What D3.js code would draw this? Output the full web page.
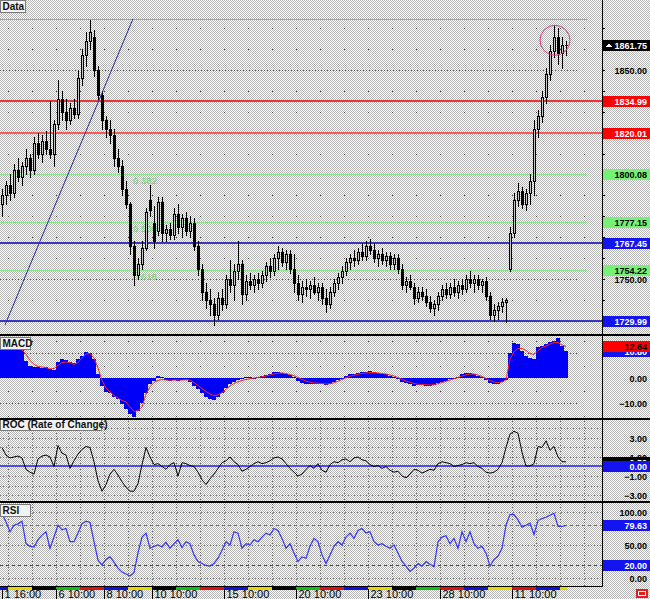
<!DOCTYPE html>
<html><head><meta charset="utf-8">
<script src="https://cdn.jsdelivr.net/npm/d3@7"></script>
<style>html,body{margin:0;padding:0;background:#fff;} svg{display:block;}</style>
</head><body><svg id="c" width="650" height="599"></svg>
<script>
// ---------- DATA ----------
const open  = [1786,1790,1795,1791,1802,1799,1804,1808,1802,1815,1810,1816,1812,1810,1824,1836,1830,1826,1832,1829,
1846,1857,1864,1866,1850,1838,1826,1822,1819,1808,1804,1793,1786,1766,1752,1757,1765,1788,1777,1773,
1787,1772,1774,1771,1781,1775,1779,1773,1777,1766,1755,1744,1740,1738,1733,1741,1738,1750,1747,1754,
1757,1743,1749,1747,1750,1748,1752,1756,1754,1760,1763,1758,1762,1755,1748,1743,1746,1745,1747,1744,
1746,1741,1738,1744,1748,1751,1754,1758,1760,1759,1763,1761,1766,1764,1760,1762,1759,1761,1757,1760,
1755,1747,1749,1746,1741,1744,1742,1739,1736,1738,1742,1745,1743,1746,1744,1747,1745,1750,1748,1750,
1747,1749,1742,1733,1735,1737,1739,1755,1772,1788,1792,1786,1791,1797,1822,1828,1837,1848,1859,1866,
1858,1862];
const high  = [1793,1797,1800,1805,1808,1806,1812,1810,1818,1820,1819,1821,1835,1826,1845,1840,1836,1834,1836,1850,
1860,1868,1874,1869,1852,1840,1828,1826,1822,1812,1807,1797,1787,1768,1760,1768,1784,1795,1785,1789,
1789,1776,1777,1784,1786,1781,1782,1780,1779,1768,1757,1748,1745,1741,1744,1745,1752,1759,1757,1768,
1759,1752,1753,1752,1753,1754,1758,1760,1762,1766,1765,1764,1764,1762,1752,1749,1750,1749,1751,1748,
1748,1745,1746,1750,1753,1756,1760,1762,1764,1765,1767,1768,1769,1767,1764,1765,1763,1763,1762,1762,
1757,1751,1752,1748,1746,1746,1745,1742,1740,1744,1747,1748,1748,1750,1749,1750,1752,1754,1752,1752,
1750,1751,1744,1738,1739,1741,1741,1775,1791,1796,1794,1793,1800,1826,1831,1840,1851,1862,1871,1870,
1866,1864];
const low   = [1780,1786,1788,1789,1797,1795,1800,1799,1800,1808,1806,1810,1808,1804,1822,1826,1822,1824,1827,1827,
1843,1852,1860,1847,1836,1822,1818,1815,1804,1801,1790,1784,1762,1747,1750,1755,1764,1780,1765,1771,
1768,1768,1769,1769,1772,1770,1771,1770,1764,1752,1740,1736,1733,1728,1731,1735,1736,1744,1740,1750,
1738,1740,1745,1744,1745,1746,1749,1751,1752,1755,1756,1755,1753,1744,1740,1739,1742,1741,1743,1740,
1738,1734,1736,1742,1745,1748,1752,1755,1756,1757,1759,1759,1762,1758,1756,1757,1756,1755,1755,1753,
1745,1744,1745,1738,1739,1740,1737,1734,1733,1735,1740,1741,1741,1742,1741,1743,1744,1746,1744,1745,
1744,1740,1731,1730,1731,1734,1729.5,1754,1770,1785,1784,1783,1786,1790,1818,1825,1834,1845,1856,1853,
1851,1857];
const close = [1790,1795,1791,1802,1799,1804,1808,1802,1815,1810,1816,1812,1810,1824,1836,1830,1826,1832,1829,1846,
1857,1864,1868,1850,1838,1826,1822,1819,1808,1804,1793,1786,1766,1752,1757,1765,1782,1783,1768,1787,
1772,1774,1771,1781,1775,1779,1773,1777,1766,1755,1744,1740,1738,1733,1741,1738,1750,1747,1754,1757,
1743,1749,1747,1750,1748,1752,1756,1754,1760,1763,1758,1762,1755,1748,1743,1746,1745,1747,1744,1746,
1741,1738,1744,1748,1751,1754,1758,1760,1759,1763,1761,1766,1764,1760,1762,1759,1761,1757,1760,1755,
1747,1749,1746,1741,1744,1742,1739,1736,1738,1742,1745,1743,1746,1744,1747,1745,1750,1748,1750,1747,
1749,1742,1733,1735,1737,1739,1740,1772,1788,1792,1786,1791,1797,1822,1828,1837,1848,1859,1866,1858,
1862,1861.75];

const macdHist = [15,14.5,13.5,13,12.5,12,7,5,4.5,4.3,4.2,4.3,3.5,3.2,6.5,7.5,7.2,6.5,6,7.5,
9,10.4,10,7.5,1.5,-3,-5.5,-6,-7.5,-8.5,-10.5,-12.5,-14.5,-15.5,-13,-10,-6,-2.5,-1,1,
0.5,-0.8,-1,-0.8,-1.2,-0.8,-0.6,-1.5,-3,-4.5,-6,-7.5,-8.5,-8.8,-7.5,-6,-4,-2.5,-1.5,-0.8,
-0.5,0.3,0.5,0.2,0.5,1,1.2,1.8,2.4,2.5,2.2,1.5,1.2,0.5,-1,-1.8,-2.2,-2.4,-2.2,-2.3,
-2.5,-2.8,-2.2,-1.5,-0.8,0,0.8,1.5,1.8,2.2,2.3,2.6,2.8,2.3,2,1.8,1.6,1,0.6,-0.3,
-1.5,-2,-2.5,-3,-2.8,-2.9,-3,-3.2,-2.8,-2,-1.5,-1,-0.5,0,0.5,1.5,2,2,1.8,1,
0.5,-0.8,-2,-2.5,-2.2,-1.5,-0.8,10,14,13.5,11,9,8,7.5,12.5,13,13.5,14.5,15,16,
13,10.8];
const macdSignal = [14,13.5,13.2,12.6,12,11.2,9.5,7,5.5,4.6,4.4,4.2,3.6,3.8,5,6.2,6.4,6.2,5.4,6.2,
8,9.6,9.8,8,4,-1,-4,-5.6,-7,-8,-9,-9.6,-11.5,-13.4,-13,-11.6,-6.5,-3.5,-1.8,-1,
-0.6,-0.8,-0.9,-0.8,-0.8,-0.8,-0.7,-0.8,-1.8,-3,-4.2,-5.4,-6.4,-7,-6.8,-5.8,-4.5,-3.2,-2.2,-1.5,
-1,-0.6,-0.3,0,0.2,0.5,0.8,1.2,1.6,1.9,2,1.8,1.4,0.9,0.2,-0.6,-1.2,-1.7,-2,-2.1,
-2.2,-2.4,-2.3,-1.9,-1.3,-0.6,0.1,0.7,1.1,1.5,1.8,2,2.2,2.2,2,1.8,1.6,1.2,0.8,0.2,
-0.6,-1.2,-1.7,-2.2,-2.5,-2.6,-2.7,-2.8,-2.7,-2.3,-1.8,-1.3,-0.8,-0.3,0.2,0.8,1.3,1.6,1.6,1.2,
0.6,-0.2,-1,-1.6,-1.9,-1.6,-0.8,7.5,10.5,11.8,11.8,11,9.8,9.4,11,12.2,12.8,13.6,14.2,14.2,
13.2,12.64];
const roc = [2.0,1.2,0.9,1.0,1.1,0.9,-0.3,-0.6,-0.8,0.8,1.1,1.2,1.0,0.0,2.2,1.4,1.2,-0.2,0.6,1.3,
1.8,2.1,2.0,0.5,-1.5,-2.6,-1.9,-0.8,-0.3,-0.9,-1.6,-2.2,-2.6,-2.6,-1.8,0.2,2.0,1.0,0.2,0.3,
0.0,-0.3,0.2,0.4,-1.0,0.4,0.3,0.1,0.0,-0.6,-1.4,-1.9,-1.3,-0.8,-0.2,0.4,0.6,1.0,0.5,0.2,
-0.5,-0.3,0.0,0.3,0.5,0.3,0.4,0.6,0.9,1.0,0.8,0.3,-0.2,-0.6,-1.0,-0.8,-0.3,0.1,-0.2,0.3,
-0.4,-0.6,0.2,0.5,0.4,0.7,0.8,0.5,0.9,1.0,0.7,0.6,0.2,0.0,0.1,-0.2,0.0,-0.4,-0.6,-0.5,
-1.0,-1.2,-0.8,-0.3,-0.4,-0.7,-0.5,-0.3,-0.4,0.3,0.5,0.4,0.3,0.0,0.1,0.2,0.4,0.3,0.4,0.0,
-0.2,-0.6,-0.7,-0.6,-0.3,0.4,2.0,3.4,3.7,3.5,1.5,0.05,0.05,0.3,2.1,2.0,2.7,1.7,2.1,1.0,
0.5,0.5];
const rsi = [98,85,70,80,82,86,52,48,47,58,65,70,45,62,80,73,75,55,55,68,
82,86,84,55,27,20,28,32,24,15,9,6,3,8,38,62,68,45,48,50,
47,54,45,52,58,46,55,52,35,25,22,19,18,22,30,42,55,50,70,68,
45,52,50,58,55,62,68,65,75,72,60,45,52,38,25,32,30,48,60,55,
35,22,35,48,55,50,62,68,60,72,75,68,70,55,50,52,48,45,50,38,
25,18,10,15,22,18,25,21,17,55,62,64,52,60,45,70,55,70,52,45,
48,38,18,28,33,45,80,96,96,88,77,80,83,66,87,90,92,95,98,78,
78,79.63];

const timeIdx    = [0,13.5,25.5,37.5,55.5,73.5,91.5,109.5,127.5];
const timeLabels = ["1 16:00","6 10:00","8 10:00","10 10:00","15 10:00","20 10:00","23 10:00","28 10:00","11 10:00"];
const sessionStart = [-1.5,1.5,7.5,13.5,19.5,25.5,31.5,37.5,43.5,49.5,55.5,61.5,67.5,73.5,79.5,85.5,91.5,97.5,103.5,109.5,115.5,121.5,127.5,133.5,139.5];
const sessionKind  = ["B","Y","K","G","R","B","Y","K","G","R","B","Y","K","G","R","B","Y","K","G","R","B","Y","R","B","Y"];

const priceTicks = [1850, 1750];
const redLevels  = [1834.99, 1820.01];
const blueLevels = [1767.45, 1729.99];
const fibTop     = 1874.3;
const fibLevels  = [1800.08, 1777.15, 1754.22];
const fibRatios  = ["0.382", "0.500", "0.618"];
const lastPrice  = 1861.75;
const trendIdx   = [0.75, 32.75];
const trendPrice = [1728, 1874.5];
const circleIdx = 138.25, circlePrice = 1864.2;
const macdTicks = [0, -10];
const macdLastHist = 10.8, macdLastSignal = 12.64;
const rocTicks = [3, 1, -1, -3];
const rocZero = 0, rocLast = 0.5;
const rsiTicks = [100, 50, 0];
const rsiHighLevel = 80, rsiLowLevel = 20, rsiLast = 79.63;

// ---------- LAYOUT ----------
const W = 650, H = 599, AX = 602;
const FONT = "'Liberation Sans', Arial, sans-serif";
const svg = d3.select("#c").attr("shape-rendering", "crispEdges");
const N = close.length;
const x = d3.scaleLinear().domain([0, N - 1]).range([2, 566]);
const yP = d3.scaleLinear().domain([1723.68, 1883.49]).range([334, 0]);
const yM = d3.scaleLinear().domain([-16, 16.8]).range([418, 336]);
const yR = d3.scaleLinear().domain([-3.63, 4.89]).range([501, 420]);
const yS = d3.scaleLinear().domain([-12.1, 113.6]).range([586, 503]);
const px = v => Math.round(v);

// background dither
const defs = svg.append("defs");
const pat = defs.append("pattern").attr("id", "dots").attr("width", 2).attr("height", 2).attr("patternUnits", "userSpaceOnUse");
pat.append("rect").attr("width", 2).attr("height", 2).attr("fill", "#ffffff");
pat.append("rect").attr("x", 0).attr("y", 0).attr("width", 1).attr("height", 1).attr("fill", "#b4b4b4");
pat.append("rect").attr("x", 1).attr("y", 1).attr("width", 1).attr("height", 1).attr("fill", "#b4b4b4");
svg.append("rect").attr("width", W).attr("height", H).attr("fill", "url(#dots)");

const gridX = d3.range(8, 590, 24);

// ---- main panel grid ----
const gMain = svg.append("g");
const dotRows = d3.range(1740, 1880, 10).filter(p => p !== 1750 && p !== 1850);
dotRows.forEach(p => gridX.forEach(gx => {
  gMain.append("rect").attr("x", gx).attr("y", px(yP(p))).attr("width", 1).attr("height", 1).attr("fill", "#444");
}));
priceTicks.forEach(p => {
  gMain.append("line").attr("x1", 0).attr("x2", 577).attr("y1", px(yP(p)) + 0.5).attr("y2", px(yP(p)) + 0.5)
    .attr("stroke", "#555").attr("stroke-dasharray", "1,2");
});

// levels
function hline(g, y, x2, color, w) {
  g.append("rect").attr("x", 0).attr("y", px(y) - Math.floor(w / 2)).attr("width", x2).attr("height", w).attr("fill", color);
}
hline(gMain, yP(fibTop), 587, "#4cdf4c", 1);
fibLevels.forEach(p => hline(gMain, yP(p), 587, "#84ec84", 1));
hline(gMain, yP(redLevels[0]), AX, "#f03434", 2);
hline(gMain, yP(redLevels[1]), AX, "#ff5858", 2);
blueLevels.forEach(p => hline(gMain, yP(p), AX, "#3838c4", 2));
fibLevels.forEach((p, k) => {
  gMain.append("text").attr("x", px(x(trendIdx[1]))).attr("y", px(yP(p)) + 10)
    .attr("font-family", FONT).attr("font-size", 9.5).attr("fill", "#62dc62").text(fibRatios[k]);
});

// candles
const gC = svg.append("g");
for (let i = 0; i < N; i++) {
  const cx = px(x(i));
  const yh = px(yP(high[i])), yl = px(yP(low[i]));
  gC.append("rect").attr("x", cx).attr("y", yh).attr("width", 1).attr("height", Math.max(1, yl - yh + 1)).attr("fill", "#000");
  const top = px(yP(Math.max(open[i], close[i]))), bot = px(yP(Math.min(open[i], close[i])));
  gC.append("rect").attr("x", cx - 1).attr("y", top).attr("width", 3).attr("height", Math.max(1, bot - top + 1)).attr("fill", "#000");
  if (close[i] >= open[i] && bot - top >= 2) {
    gC.append("rect").attr("x", cx).attr("y", top + 1).attr("width", 1).attr("height", bot - top - 1).attr("fill", "#c4c4c4");
  }
}

// trendline & circle
svg.append("line").attr("shape-rendering", "auto")
  .attr("x1", x(trendIdx[0])).attr("y1", yP(trendPrice[0])).attr("x2", x(trendIdx[1])).attr("y2", yP(trendPrice[1]))
  .attr("stroke", "#2a2aa8").attr("stroke-width", 1);
svg.append("circle").attr("shape-rendering", "auto").attr("cx", x(circleIdx)).attr("cy", yP(circlePrice)).attr("r", 15)
  .attr("fill", "none").attr("stroke", "#e0307f").attr("stroke-width", 1);

// panel label boxes
function labelBox(x0, y0, w, h, txt) {
  svg.append("rect").attr("x", x0).attr("y", y0).attr("width", w).attr("height", h).attr("fill", "#f2f2f2").attr("stroke", "#7a7a7a");
  svg.append("text").attr("x", x0 + 2).attr("y", y0 + h - 3).attr("font-family", FONT).attr("font-size", 10).attr("font-weight", "bold").attr("fill", "#111").text(txt);
}
labelBox(0.5, 0.5, 25, 12, "Data");

// ---- MACD ----
const gM = svg.append("g");
[-15, -5, 5, 15].forEach(v => gridX.forEach(gx => gM.append("rect").attr("x", gx).attr("y", px(yM(v))).attr("width", 1).attr("height", 1).attr("fill", "#444")));
[10, -10].forEach(v => gM.append("line").attr("x1", 0).attr("x2", 577).attr("y1", px(yM(v)) + 0.5).attr("y2", px(yM(v)) + 0.5).attr("stroke", "#555").attr("stroke-dasharray", "1,2"));
labelBox(0.5, 337.5, 30, 12, "MACD");
macdHist.forEach((v, i) => {
  const cx = px(x(i));
  const y0 = px(yM(Math.max(0, v))), y1 = px(yM(Math.min(0, v)));
  gM.append("rect").attr("x", cx - 2).attr("y", y0).attr("width", 4).attr("height", Math.max(1, y1 - y0)).attr("fill", "#0000f8");
});
gM.append("path").datum(macdSignal).attr("shape-rendering", "auto")
  .attr("d", d3.line().x((d, i) => x(i)).y(d => yM(d))).attr("fill", "none").attr("stroke", "#ff2020").attr("stroke-width", 1);

// ---- ROC ----
const gR = svg.append("g");
d3.range(-3, 5).filter(v => v !== 0).forEach(v => gR.append("line").attr("x1", 0).attr("x2", AX).attr("y1", px(yR(v)) + 0.5).attr("y2", px(yR(v)) + 0.5).attr("stroke", "#7a7a7a").attr("stroke-dasharray", "1,2"));
gridX.forEach(gx => gR.append("line").attr("x1", gx + 0.5).attr("x2", gx + 0.5).attr("y1", 421).attr("y2", 501).attr("stroke", "#6a6a6a").attr("stroke-dasharray", "1,2"));
hline(gR, yR(rocZero), AX, "#4a4aff", 2);
labelBox(0.5, 418.5, 101, 12, "ROC (Rate of Change)");
gR.append("path").datum(roc).attr("shape-rendering", "auto")
  .attr("d", d3.line().x((d, i) => x(i)).y(d => yR(d))).attr("fill", "none").attr("stroke", "#000").attr("stroke-width", 1);

// ---- RSI ----
const gS = svg.append("g");
rsiTicks.forEach(v => gS.append("line").attr("x1", 0).attr("x2", AX).attr("y1", px(yS(v)) + 0.5).attr("y2", px(yS(v)) + 0.5).attr("stroke", "#7a7a7a").attr("stroke-dasharray", "1,2"));
gridX.forEach(gx => gS.append("line").attr("x1", gx + 0.5).attr("x2", gx + 0.5).attr("y1", 504).attr("y2", 586).attr("stroke", "#6a6a6a").attr("stroke-dasharray", "1,2"));
gS.append("line").attr("x1", 0).attr("x2", AX).attr("y1", px(yS(rsiHighLevel)) + 0.5).attr("y2", px(yS(rsiHighLevel)) + 0.5).attr("stroke", "#ff3a3a").attr("stroke-dasharray", "3,3");
gS.append("line").attr("x1", 0).attr("x2", AX).attr("y1", px(yS(rsiLowLevel)) + 0.5).attr("y2", px(yS(rsiLowLevel)) + 0.5).attr("stroke", "#3030ff").attr("stroke-dasharray", "3,3");
labelBox(0.5, 504.5, 30, 12, "RSI");
gS.append("path").datum(rsi).attr("shape-rendering", "auto")
  .attr("d", d3.line().x((d, i) => x(i)).y(d => yS(d))).attr("fill", "none").attr("stroke", "#3434ff").attr("stroke-width", 1.2);

// ---- separators & axis line ----
[[334, 2], [418, 2], [501, 2]].forEach(([y0, h]) => svg.append("rect").attr("x", 0).attr("y", y0).attr("width", W).attr("height", h).attr("fill", "#000"));
svg.append("rect").attr("x", 0).attr("y", 586).attr("width", AX).attr("height", 1).attr("fill", "#000");
svg.append("rect").attr("x", AX).attr("y", 0).attr("width", 1).attr("height", 587).attr("fill", "#000");

// ---- right axes ----
function axisLabels(scale, ticks, fmt) {
  const g = svg.append("g").attr("transform", `translate(${AX},0)`)
    .call(d3.axisRight(scale).tickValues(ticks).tickSize(0).tickPadding(0).tickFormat(fmt));
  g.select(".domain").remove();
  g.selectAll("text").attr("x", 45).attr("dy", "0.35em").attr("text-anchor", "end")
    .attr("font-family", FONT).attr("font-size", 9).attr("font-weight", "bold").attr("fill", "#000");
}
const tickG = svg.append("g").attr("transform", `translate(${AX},0)`)
  .call(d3.axisRight(yP).tickValues(d3.range(1730, 1880, 10)).tickSize(3).tickFormat(""));
tickG.select(".domain").remove();
tickG.selectAll("line").attr("stroke", "#000");

const f2 = d3.format(".2f");
axisLabels(yP, priceTicks, f2);
axisLabels(yM, macdTicks, f2);
axisLabels(yR, rocTicks, f2);
axisLabels(yS, rsiTicks, f2);

function valueBox(y, value, bg, fg) {
  const yy = px(y);
  svg.append("rect").attr("x", AX + 1).attr("y", yy - 5).attr("width", W - AX - 1).attr("height", 11).attr("fill", bg);
  svg.append("text").attr("x", AX + 45).attr("y", yy + 3.5).attr("text-anchor", "end")
    .attr("font-family", FONT).attr("font-size", 9).attr("font-weight", "bold").attr("fill", fg).text(f2(value));
}
valueBox(yP(redLevels[0]), redLevels[0], "#ff0000", "#fff");
valueBox(yP(redLevels[1]), redLevels[1], "#ff0000", "#fff");
valueBox(yP(fibLevels[0]), fibLevels[0], "#76f176", "#000");
valueBox(yP(fibLevels[1]), fibLevels[1], "#76f176", "#000");
valueBox(yP(blueLevels[0]), blueLevels[0], "#1414f0", "#fff");
valueBox(yP(fibLevels[2]), fibLevels[2], "#76f176", "#000");
valueBox(yP(blueLevels[1]), blueLevels[1], "#1414f0", "#fff");
valueBox(yP(lastPrice), lastPrice, "#000", "#fff");
svg.append("path").attr("d", `M${AX + 4},${px(yP(lastPrice)) + 2}L${AX + 7},${px(yP(lastPrice)) - 2}L${AX + 10},${px(yP(lastPrice)) + 2}Z`).attr("fill", "#fff");
valueBox(yM(macdLastHist), macdLastHist, "#1414f0", "#fff");
valueBox(yM(macdLastSignal), macdLastSignal, "#ff0000", "#000");
valueBox(yR(rocLast), rocLast, "#000", "#fff");
valueBox(yR(rocZero), rocZero, "#1414f0", "#fff");
valueBox(yS(rsiLast), rsiLast, "#1414f0", "#fff");
valueBox(yS(rsiLowLevel), rsiLowLevel, "#1414f0", "#fff");

// ---- time axis ----
const sessColor = {B: "#1010e0", Y: "#e4d800", K: "#000", G: "#10c010", R: "#e01010"};
sessionStart.forEach((s, k) => {
  const x0 = Math.max(0, px(x(s))), x1 = Math.min(567, px(x(s + 6)));
  svg.append("rect").attr("x", x0).attr("y", 587).attr("width", Math.max(0, x1 - x0)).attr("height", 3).attr("fill", sessColor[sessionKind[k]]);
});
const tAxis = svg.append("g").attr("transform", "translate(0,589)")
  .call(d3.axisBottom(x).tickValues(timeIdx).tickSize(10).tickPadding(0).tickFormat((d, k) => timeLabels[k]));
tAxis.select(".domain").remove();
tAxis.selectAll("line").attr("stroke", "#000");
tAxis.selectAll("text").attr("text-anchor", "start").attr("dx", 2).attr("dy", 0).attr("y", 9)
  .attr("font-family", FONT).attr("font-size", 11).attr("fill", "#000");

// bottom-right icon
svg.append("rect").attr("x", 636).attr("y", 589).attr("width", 12).attr("height", 9).attr("fill", "#e02020");
svg.append("rect").attr("x", 638.5).attr("y", 591.5).attr("width", 7).attr("height", 4).attr("fill", "none").attr("stroke", "#fff");
</script></body></html>
